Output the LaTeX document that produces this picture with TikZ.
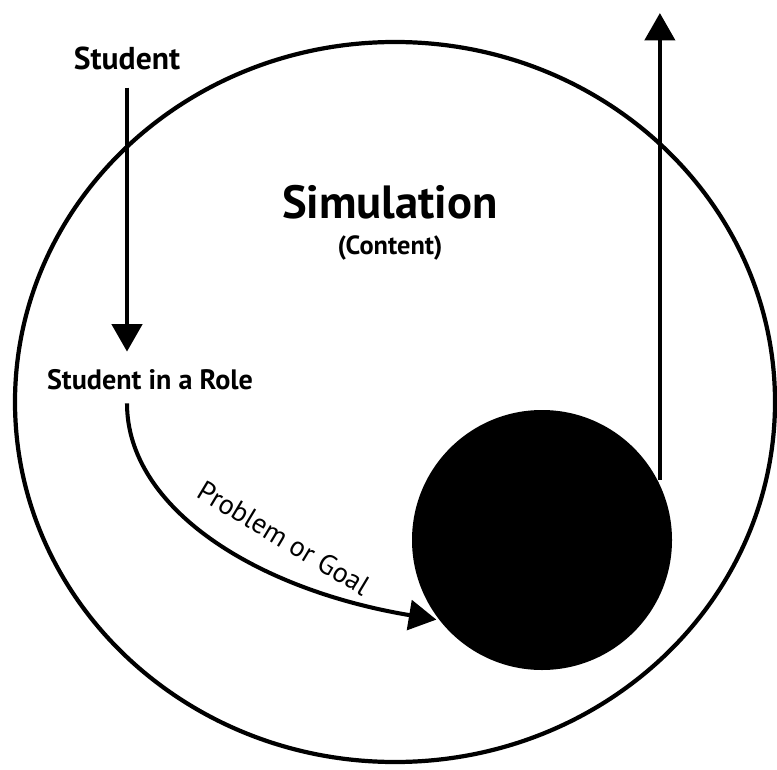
\documentclass[tikz,border=0pt]{standalone}
\usepackage{fontspec}
\setmainfont{PT Sans}
\usetikzlibrary{positioning,arrows.meta,shapes.geometric}

\begin{document}
\begin{tikzpicture}[>={Triangle[width=0.6cm,length=0.55cm]}, line width=2.6pt, node distance=0.3cm]
    \useasboundingbox (0,0) rectangle (15.54,15.38);
    % Nodes
    \node[draw, ellipse, minimum width=15.2cm, minimum height=14.4cm, line width=2.4pt] (world) at (7.9,7.34) {};
    \node[font=\fontsize{26.5}{30}\selectfont\bfseries] (sim) at (7.8,11.34) {Simulation};
    \node[font=\fontsize{15}{17}\selectfont\bfseries, below=0cm of sim] (content) {(Content)};
    \node[circle, fill, minimum size=5.2cm] (goal) at (10.84,4.58) {};
    \node[font=\fontsize{18}{21}\selectfont\bfseries] (student) at (2.54,14.22) {Student};
    \node[font=\fontsize{16}{19}\selectfont\bfseries] (role) at (3.0,7.78) {Student in a Role};
    \node[font=\fontsize{16}{19}\selectfont, rotate=-31] (problem) at (5.68,4.62) {Problem or Goal};
    \coordinate (top) at (13.24,15.12);

    % Connections
    \draw[->, shorten <=0.2cm, shorten >=0.2cm] (student.south) -- (student.south |- role.north);
    \draw[->, line width=2.3pt] ([yshift=-0.1cm]student.south |- role.south) .. controls +(0,-2.1) and +(-3.6,0.6) .. (goal.217);
    \draw[->] (goal.27) -- (goal.27 |- top);
\end{tikzpicture}
\end{document}
